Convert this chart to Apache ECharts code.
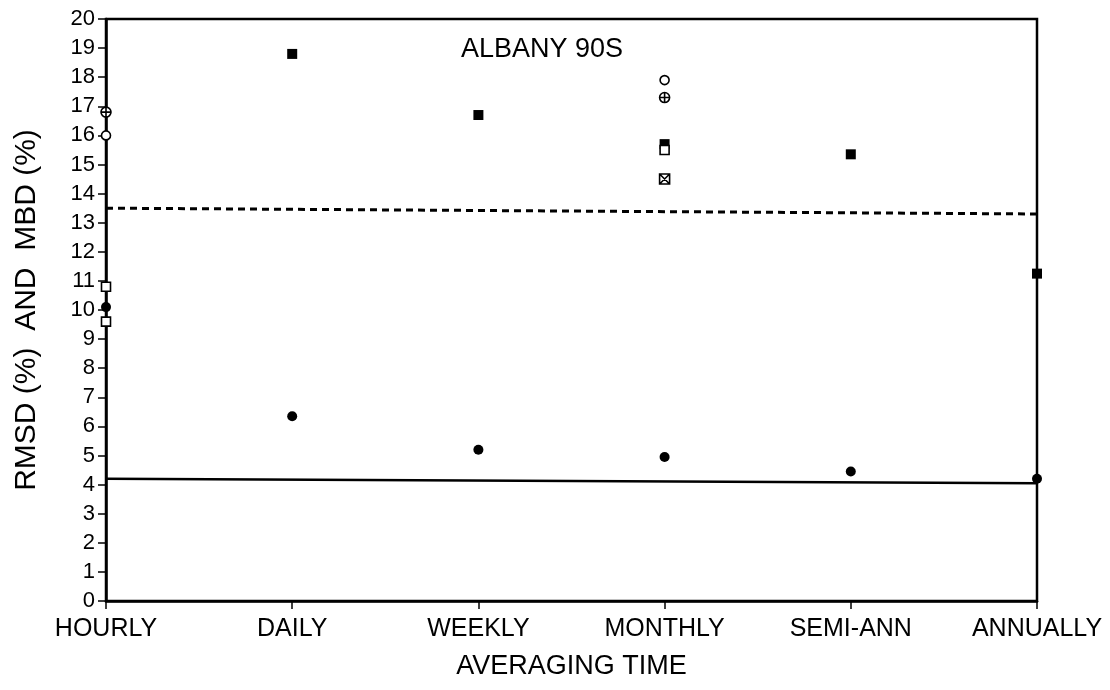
<!DOCTYPE html>
<html><head><meta charset="utf-8">
<script src="https://cdn.jsdelivr.net/npm/echarts@6/dist/echarts.min.js"></script>
<style>html,body{margin:0;padding:0;background:#fff}#c{width:1110px;height:690px}</style>
</head><body><div id="c"></div>
<script>
// Averaging periods along the bottom axis
const categories = ['HOURLY', 'DAILY', 'WEEKLY', 'MONTHLY', 'SEMI-ANN', 'ANNUALLY'];

// Error statistics (%) by averaging period; null = not plotted
const filledSquare = [null, 18.8, 16.7, 15.7, 15.35, 11.25];
const filledCircle = [10.1, 6.35, 5.2, 4.95, 4.45, 4.2];
const openCircle   = [16.0, null, null, 17.9, null, null];
const circlePlus   = [16.8, null, null, 17.3, null, null];
const openSquareA  = [10.8, null, null, 15.5, null, null];
const openSquareB  = [9.6, null, null, null, null, null];
const squareCross  = [null, null, null, 14.5, null, null];

// Reference levels drawn across the full span
const dashedLevel = [13.5, null, null, null, null, 13.3];
const solidLevel  = [4.2, null, null, null, null, 4.05];

const yMin = 0, yMax = 20, yStep = 1;

const FONT = 'Liberation Sans, Arial, sans-serif';
const toData = a => a.map(v => (v == null ? '-' : v));

const CIRCLE_PLUS = 'path://M0,-10A10,10 0 1,1 0,10A10,10 0 1,1 0,-10Z M-10,0L10,0 M0,-10L0,10';
const SQUARE_CROSS = 'path://M-10,-10L10,-10L10,10L-10,10Z M-10,-10L10,10 M10,-10L-10,10';

function scatter(name, data, symbol, size, filled) {
  return {
    name, type: 'scatter', data: toData(data), symbol, symbolSize: size,
    itemStyle: filled
      ? { color: '#000', opacity: 1 }
      : { color: '#fff', borderColor: '#000', borderWidth: 1.6, opacity: 1 },
    z: 5
  };
}

function level(name, data, type, width) {
  return {
    name, type: 'line', data: toData(data), connectNulls: true, symbol: 'none',
    lineStyle: { color: '#000', width, type }, z: 3, silent: true
  };
}

const chart = echarts.init(document.getElementById('c'), null, { renderer: 'canvas' });
chart.setOption({
  backgroundColor: '#fff',
  animation: false,
  title: {
    text: 'ALBANY 90S', left: 456, top: 31,
    textStyle: { fontFamily: FONT, fontSize: 27, fontWeight: 'normal', color: '#000' }
  },
  grid: { left: 106, right: 73, top: 19, bottom: 89, show: true, borderColor: '#000', borderWidth: 2.5, backgroundColor: 'transparent' },
  xAxis: {
    type: 'category', data: categories, boundaryGap: false,
    axisLine: { lineStyle: { color: '#000', width: 2.5 } },
    axisTick: { show: true, length: 8, interval: 0, lineStyle: { color: '#000', width: 1.5 } },
    axisLabel: { color: '#000', fontFamily: FONT, fontSize: 25, margin: 16, interval: 0 },
    splitLine: { show: false },
    name: 'AVERAGING TIME', nameLocation: 'middle', nameGap: 52,
    nameTextStyle: { color: '#000', fontFamily: FONT, fontSize: 27 }
  },
  yAxis: {
    type: 'value', min: yMin, max: yMax, interval: yStep,
    axisLine: { show: true, lineStyle: { color: '#000', width: 2.5 } },
    axisTick: { show: true, length: 8, lineStyle: { color: '#000', width: 1.5 } },
    axisLabel: { color: '#000', fontFamily: FONT, fontSize: 22, margin: 11 },
    splitLine: { show: false },
    name: 'RMSD (%)  AND  MBD (%)', nameLocation: 'middle', nameGap: 64, nameRotate: 90,
    nameTextStyle: { color: '#000', fontFamily: FONT, fontSize: 30 }
  },
  series: [
    level('dashed', dashedLevel, [7, 5], 3),
    level('solid', solidLevel, 'solid', 2.5),
    scatter('filledSquare', filledSquare, 'rect', 10, true),
    scatter('filledCircle', filledCircle, 'circle', 10, true),
    scatter('openCircle', openCircle, 'circle', 9, false),
    scatter('circlePlus', circlePlus, CIRCLE_PLUS, 10, false),
    scatter('openSquareA', openSquareA, 'rect', 9, false),
    scatter('openSquareB', openSquareB, 'rect', 9, false),
    scatter('squareCross', squareCross, SQUARE_CROSS, 10, false)
  ]
});
</script>
</body></html>
